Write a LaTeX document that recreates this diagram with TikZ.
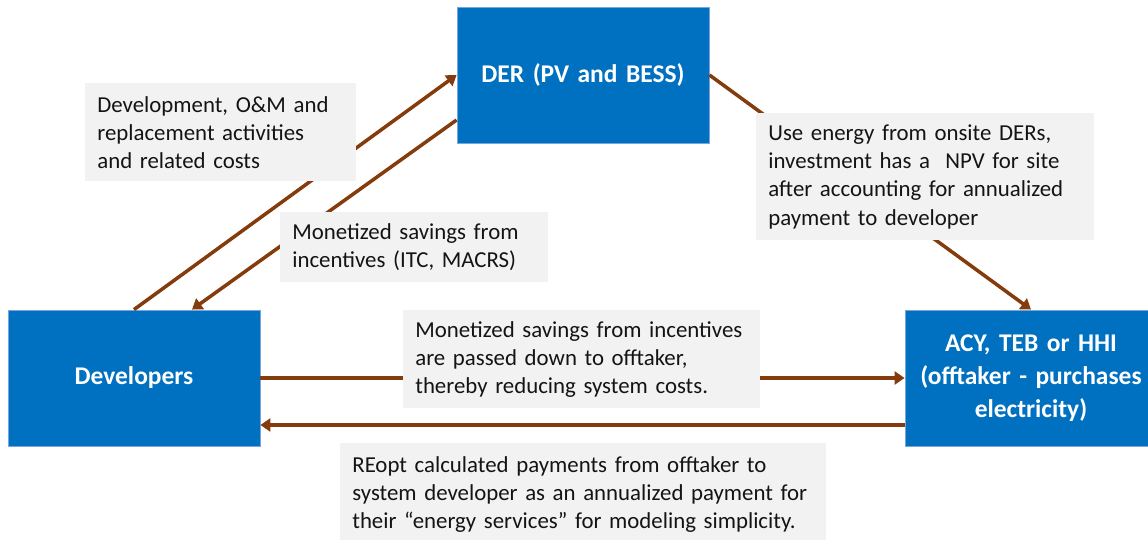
\documentclass[tikz,border=0pt]{standalone}
\usepackage{fontspec}
\setmainfont{Carlito}
\usepackage{tikz}
\usetikzlibrary{arrows.meta}
\definecolor{derblue}{RGB}{0,112,192}
\definecolor{edgeblue}{RGB}{120,165,220}
\definecolor{flowbrown}{RGB}{132,60,12}
\definecolor{notegray}{RGB}{242,242,242}
\definecolor{notetext}{RGB}{20,20,20}
\tikzstyle{unit}=[rectangle,fill=derblue,draw=edgeblue,line width=0.5pt,minimum width=5.04cm,minimum height=2.72cm,text width=4.8cm,align=center,text=white,font=\fontsize{14.5}{18.6}\selectfont\bfseries]
\tikzstyle{note}=[rectangle,fill=notegray,anchor=north west,inner xsep=0.24cm,inner ysep=0pt,align=left,text=notetext,font=\fontsize{13}{16}\selectfont]
\tikzstyle{flow}=[-{Triangle[length=0.2cm,width=0.26cm]},draw=flowbrown,line width=2pt]

\begin{document}
\begin{tikzpicture}[x=0.02cm,y=-0.02cm]

\useasboundingbox (0,0) rectangle (1148,540);

\node (der) [unit] at (583,75) {DER (PV and BESS)};
\node (dev) [unit] at (134,378) {Developers};
\node (acy) [unit] at (1031,378) {ACY, TEB or HHI\\(offtaker - purchases\\electricity)};

\draw [flow] (dev.north) -- (der.west);
\draw [flow] ([yshift=-0.9cm]der.west) -- ([xshift=1.16cm]dev.north);
\draw [flow] (der.east) -- (acy.north);
\draw [flow] (dev.east) -- (acy.west);
\draw [flow] ([yshift=-0.94cm]acy.west) -- ([yshift=-0.94cm]dev.east);

\node (costs) [note,text width=4.94cm,minimum height=1.96cm] at (85,83)
  {Development, O\&M and\\replacement activities\\and related costs};
\node (itc) [note,text width=4.88cm,minimum height=1.4cm] at (280,212)
  {Monetized savings from\\incentives (ITC, MACRS)};
\node (npv) [note,text width=6.28cm,minimum height=2.54cm] at (756,113)
  {Use energy from onsite DERs,\\investment has a \ NPV for site\\after accounting for annualized\\payment to developer};
\node (pass) [note,text width=6.66cm,minimum height=1.96cm] at (403,310)
  {Monetized savings from incentives\\are passed down to offtaker,\\thereby reducing system costs.};
\node (reopt) [note,text width=9.24cm,minimum height=2.04cm] at (340,443)
  {REopt calculated payments from offtaker to\\system developer as an annualized payment for\\their ``energy services'' for modeling simplicity.};

\end{tikzpicture}
\end{document}
